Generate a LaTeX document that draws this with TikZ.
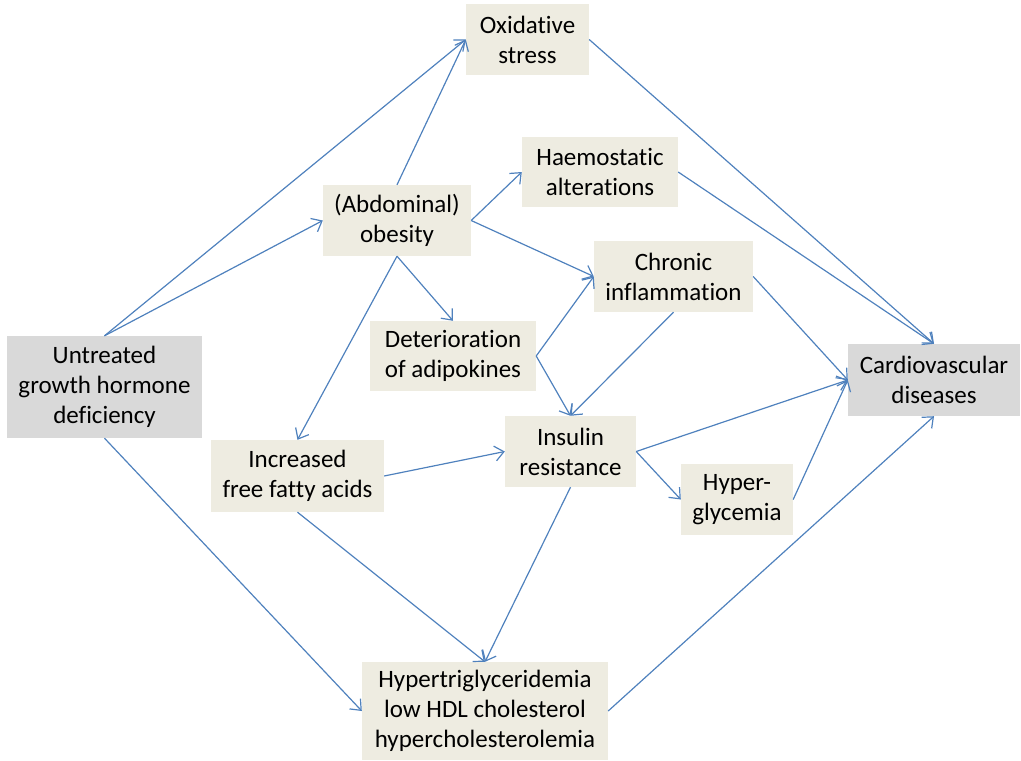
\documentclass[tikz,border=0pt]{standalone}
\usepackage{fontspec}
\setmainfont[Ligatures={NoCommon}]{Carlito}
\usepackage{tikz}
\usetikzlibrary{arrows.meta}
\definecolor{linkblue}{RGB}{79,129,189}
\definecolor{boxtan}{RGB}{238,236,225}
\definecolor{boxgray}{RGB}{217,217,217}

\begin{document}
\begin{tikzpicture}[x=1pt,y=-1pt,
        box/.style={fill=boxtan,inner sep=0pt,align=center,
          font=\fontsize{25}{30}\selectfont},
        endbox/.style={box,fill=boxgray},
        arr/.style={draw=linkblue,line width=1.2pt,
          -{Straight Barb[length=9pt,width=15pt]}}]
        \useasboundingbox (0,0) rectangle (1021,761);
        \node[box,minimum width=123pt,minimum height=71pt] (ox) at (527.5,39.5) {Oxidative\\stress};
        \node[box,minimum width=156pt,minimum height=70pt] (hae) at (600,172) {Haemostatic\\alterations};
        \node[box,minimum width=148pt,minimum height=71pt] (ob) at (397,220.5) {(Abdominal)\\obesity};
        \node[box,minimum width=159pt,minimum height=71pt] (chr) at (673.5,276.5) {Chronic\\inflammation};
        \node[box,minimum width=166pt,minimum height=70pt] (det) at (453,356) {Deterioration\\of adipokines};
        \node[endbox,minimum width=195pt,minimum height=102pt] (ut) at (104.5,387) {Untreated\\growth hormone\\deficiency};
        \node[endbox,minimum width=172pt,minimum height=72pt] (cvd) at (934,380) {Cardiovascular\\diseases};
        \node[box,minimum width=131pt,minimum height=71pt] (ins) at (570.5,451.5) {Insulin\\resistance};
        \node[box,minimum width=173pt,minimum height=72pt] (ffa) at (297.5,476) {Increased\\free fatty acids};
        \node[box,minimum width=112pt,minimum height=71pt] (hyp) at (737,499.5) {Hyper-\\glycemia};
        \node[box,minimum width=246pt,minimum height=98pt] (tri) at (485,711) {Hypertriglyceridemia\\low HDL cholesterol\\hypercholesterolemia};
        \foreach \s/\t in {ut.north/ox.west,ut.north/ob.west,ut.south/tri.west,
          ob.north/ox.west,ob.east/hae.west,ob.east/chr.west,ob.south/det.north,
          ob.south/ffa.north,det.east/chr.west,det.east/ins.north,chr.south/ins.north,
          chr.east/cvd.west,ox.east/cvd.north,hae.east/cvd.north,ins.east/cvd.west,
          ins.east/hyp.west,hyp.east/cvd.west,ins.south/tri.north,ffa.south/tri.north,
          ffa.east/ins.west,tri.east/cvd.south} {
        \draw[arr] (\s) -- (\t); }
      \end{tikzpicture}
\end{document}
